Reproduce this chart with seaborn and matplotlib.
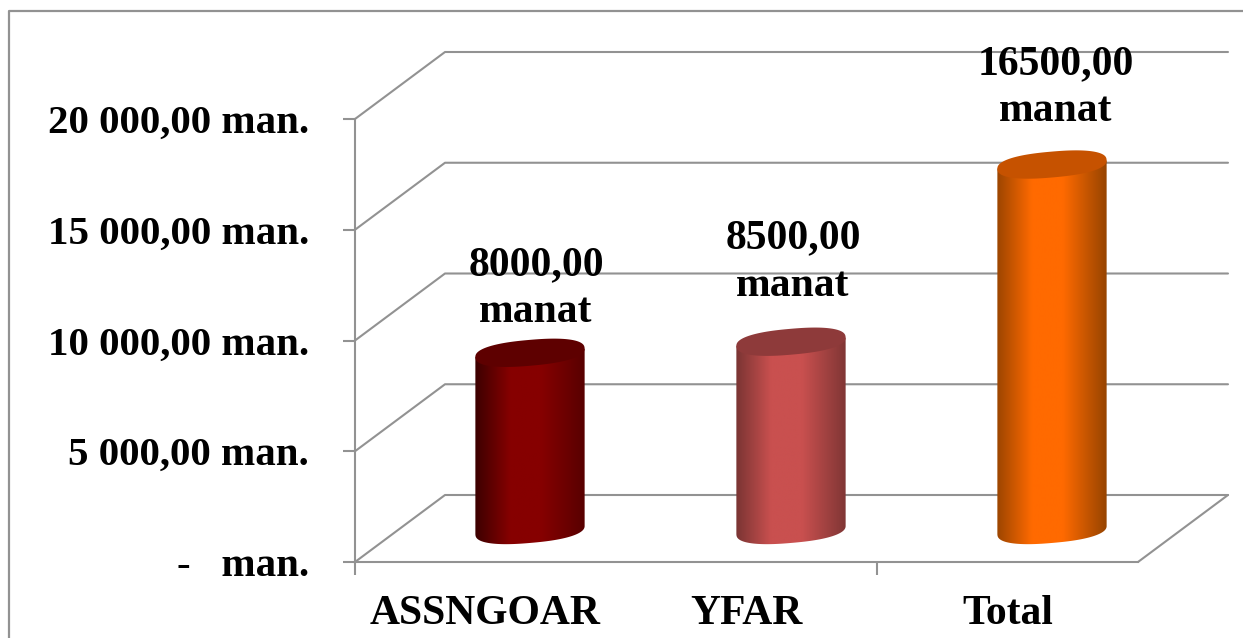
import numpy as np
import matplotlib
matplotlib.use("Agg")
import matplotlib.pyplot as plt
import seaborn as sns
from matplotlib.colors import LinearSegmentedColormap
from matplotlib.lines import Line2D
from matplotlib.patches import Polygon
from matplotlib.transforms import IdentityTransform

# ---- data ----
categories = ["ASSNGOAR", "YFAR", "Total"]
values = [8000, 8500, 16500]
value_labels = ["8000,00\nmanat", "8500,00\nmanat", "16500,00\nmanat"]
y_ticks = [0, 5000, 10000, 15000, 20000]
y_tick_labels = ["-   man.", "5 000,00 man.", "10 000,00 man.", "15 000,00 man.", "20 000,00 man."]

# ---- styles ----
mid_colors = ["#860000", "#c9504f", "#ff6a00"]
left_colors = ["#3c0000", "#7a3433", "#9c4500"]
right_colors = ["#580000", "#803635", "#964400"]
top_colors = ["#5e0000", "#8e3a3a", "#c65200"]
label_offsets_px = [(6, 64), (2, 79.5), (4, 77)]
GRID = "#929292"
W, H = 1243, 638
DEPTH = (90, 67)          # back wall offset in pixels
BAR_SHIFT = (44.5, 32)    # cylinders stand mid-way on the floor
TILT = np.deg2rad(5)
RX, RY, ROUND = 54.8, 12.9, 2.4

sns.set_theme(style="white")
plt.rcParams["font.family"] = ["Liberation Serif", "DejaVu Serif"]
plt.rcParams["font.weight"] = "bold"

fig = plt.figure(figsize=(W / 100, H / 100), dpi=100, facecolor="white")


def rect(x0, y_top, x1, y_bottom):
    return [x0 / W, 1 - y_bottom / H, (x1 - x0) / W, (y_bottom - y_top) / H]


# main axes: front plane of the 3-D box
ax = fig.add_axes(rect(355, 119, 1138, 562), facecolor="none")
ax.set_xlim(-0.5, 2.5)
ax.set_ylim(0, 20000)
ax.set_yticks(y_ticks, y_tick_labels, fontsize=29.5, fontweight="bold", color="black")
ax.set_xticks([-0.5, 1.5], ["", ""])
ax.set_xticks([0, 1, 2], categories, minor=True, fontsize=30, fontweight="bold", color="black")
ax.tick_params(axis="y", length=8.6, width=1.5, color=GRID, pad=24.7, left=True)
ax.tick_params(axis="x", which="major", length=9.4, width=1.5, color=GRID, bottom=True)
ax.tick_params(axis="x", which="minor", length=0, pad=23.5)
sns.despine(ax=ax, top=True, right=True)
for side in ("left", "bottom"):
    ax.spines[side].set_color(GRID)
    ax.spines[side].set_linewidth(1.5)

# back wall and floor lines
display = IdentityTransform()
for t in y_ticks:
    (fx, fy) = ax.transData.transform((-0.5, t))
    (rx, _) = ax.transData.transform((2.5, t))
    xs = [fx, fx + DEPTH[0], rx + DEPTH[0]]
    ys = [fy, fy + DEPTH[1], fy + DEPTH[1]]
    ax.add_line(Line2D(xs, ys, transform=display, color=GRID, lw=1.5, clip_on=False, zorder=1))
(rx, ry) = ax.transData.transform((2.5, 0))
ax.add_line(Line2D([rx, rx + DEPTH[0]], [ry, ry + DEPTH[1]], transform=display,
                   color=GRID, lw=1.5, clip_on=False, zorder=1))

# cylinders: seaborn bars on an overlay axes shifted into the box
ax2 = fig.add_axes(rect(355 + BAR_SHIFT[0], 119 - BAR_SHIFT[1], 1138 + BAR_SHIFT[0], 562 - BAR_SHIFT[1]),
                   facecolor="none")
sns.barplot(x=categories, y=values, hue=categories, palette=mid_colors, width=0.42,
            legend=False, ax=ax2, saturation=1, linewidth=0)
ax2.set_xlim(-0.5, 2.5)
ax2.set_ylim(0, 20000)
ax2.axis("off")


def ellipse_points(cx, cy):
    t = np.linspace(0, 2 * np.pi, 361)
    c, s = np.cos(t), np.sin(t)
    ex = RX * np.sign(c) * np.abs(c) ** (2 / ROUND)
    ey = RY * np.sign(s) * np.abs(s) ** (2 / ROUND)
    return (cx + ex * np.cos(TILT) - ey * np.sin(TILT),
            cy + ex * np.sin(TILT) + ey * np.cos(TILT))


for i, bar in enumerate(list(ax2.patches)[:len(values)]):
    x0, w, h = bar.get_x(), bar.get_width(), bar.get_height()
    x_mid = x0 + w / 2
    cx, cy_bot = ax2.transData.transform((x_mid, 0))
    _, cy_top = ax2.transData.transform((x_mid, h))

    ex, ey = ellipse_points(cx, cy_bot)
    i_left, i_right = int(np.argmin(ex[:-1])), int(np.argmax(ex[:-1]))
    stop = i_right + 360 if i_right < i_left else i_right
    order = np.arange(i_left, stop + 1) % 360
    arc = np.column_stack([ex[order], ey[order]])
    rise = cy_top - cy_bot
    body = np.vstack([[arc[0, 0], arc[0, 1] + rise], arc, [arc[-1, 0], arc[-1, 1] + rise]])
    clip = Polygon(body, closed=True, transform=display, facecolor="none", edgecolor="none")
    ax2.add_patch(clip)
    clip.set_clip_on(False)

    cmap = LinearSegmentedColormap.from_list(
        f"cyl{i}",
        [(0, left_colors[i]), (0.32, mid_colors[i]), (0.6, mid_colors[i]), (1, right_colors[i])])
    grad = np.linspace(0, 1, 256)[None, :]
    im = ax2.imshow(grad, cmap=cmap, aspect="auto", vmin=0, vmax=1,
                    extent=(x0, x0 + w, -2000, h + 1000), zorder=3, interpolation="bilinear")
    im.set_clip_box(fig.bbox)
    im.set_clip_path(clip)
    bar.set_visible(False)

    tx, ty = ellipse_points(cx, cy_top)
    ax2.add_patch(Polygon(np.column_stack([tx, ty]), closed=True, transform=display,
                          facecolor=top_colors[i], edgecolor="none", zorder=4, clip_on=False))

    dx, dy = label_offsets_px[i]
    ax2.annotate(value_labels[i], xy=(x_mid, h), xytext=(dx * 0.72, dy * 0.72),
                 textcoords="offset points", ha="center", va="center", fontsize=30,
                 fontweight="bold", color="black", linespacing=1.32, zorder=5,
                 annotation_clip=False)
ax2.set_xlim(-0.5, 2.5)
ax2.set_ylim(0, 20000)

# picture frame (cut off at right and bottom)
fig.add_artist(Line2D([9 / W, 9 / W, 1.0], [0, 1 - 11 / H, 1 - 11 / H],
                      transform=fig.transFigure, color=GRID, lw=1.6))

fig.savefig("out.png", dpi=100)
